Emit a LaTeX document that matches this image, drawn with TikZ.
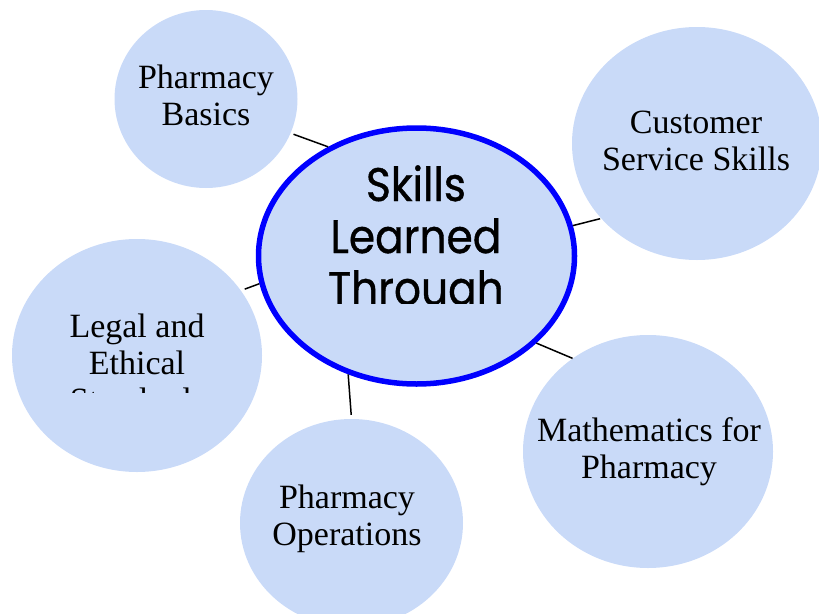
\documentclass[tikz,border=0pt]{standalone}
\usepackage{fontspec}
\setmainfont{Liberation Serif}
\newfontfamily\hubfont[FakeStretch=0.9,FakeBold=0.8]{Poppins}
\usetikzlibrary{shapes.geometric}
\definecolor{bubblefill}{RGB}{201,218,248}
\definecolor{hubblue}{RGB}{0,0,255}
\begin{document}
\begin{tikzpicture}[x=1pt,y=-1pt,
  bubble/.style={ellipse, fill=bubblefill, draw=none, inner sep=0pt},
  lbl/.style={align=center, font=\fontsize{34}{37}\selectfont, inner sep=0pt, anchor=base},
  link/.style={draw=black, line width=1.5pt}]
\useasboundingbox (0,0) rectangle (819,613);
\node[bubble, minimum width=183pt, minimum height=178pt] (basics) at (206,99) {};
\node[bubble, minimum width=250pt, minimum height=233pt] (customer) at (697,143.5) {};
\node[bubble, minimum width=250pt, minimum height=233pt] (legal) at (137,355.5) {};
\node[bubble, minimum width=250pt, minimum height=233pt] (math) at (648,451.5) {};
\node[bubble, minimum width=223pt, minimum height=208pt] (ops) at (351.5,523) {};
\node[ellipse, fill=bubblefill, draw=hubblue, line width=5.5pt, inner sep=0pt,
      minimum width=316pt, minimum height=256pt] (hub) at (416.5,256) {};
\draw[link, shorten >=3pt] (hub.129) -- (basics.-22.5);
\draw[link, shorten >=1pt] (hub.11) -- (customer.218.5);
\draw[link, shorten >=4pt] (hub.190.5) -- (legal.32.9);
\draw[link] (hub.-36.9) -- (math.129.9);
\draw[link, shorten >=4pt] (hub.240.2) -- (ops.90);
\node[lbl] (basicsText) at (206,125.6) {Pharmacy\\Basics};
\node[lbl] (customerText) at (696,170) {Customer\\Service Skills};
\node[lbl] (mathText) at (649,478) {Mathematics for\\Pharmacy};
\node[lbl] (opsText) at (347,545) {Pharmacy\\Operations};
\begin{scope}
  \clip (0,230) rectangle (270,392);
  \node[lbl] (legalText) at (137,411) {Legal and\\Ethical\\Standards};
\end{scope}
\begin{scope}
  \clip (280,130) rectangle (560,303);
  \node[lbl, font=\hubfont\fontsize{47}{52}\selectfont] (hubText) at (416,305) {Skills\\Learned\\Through};
\end{scope}
\end{tikzpicture}
\end{document}
